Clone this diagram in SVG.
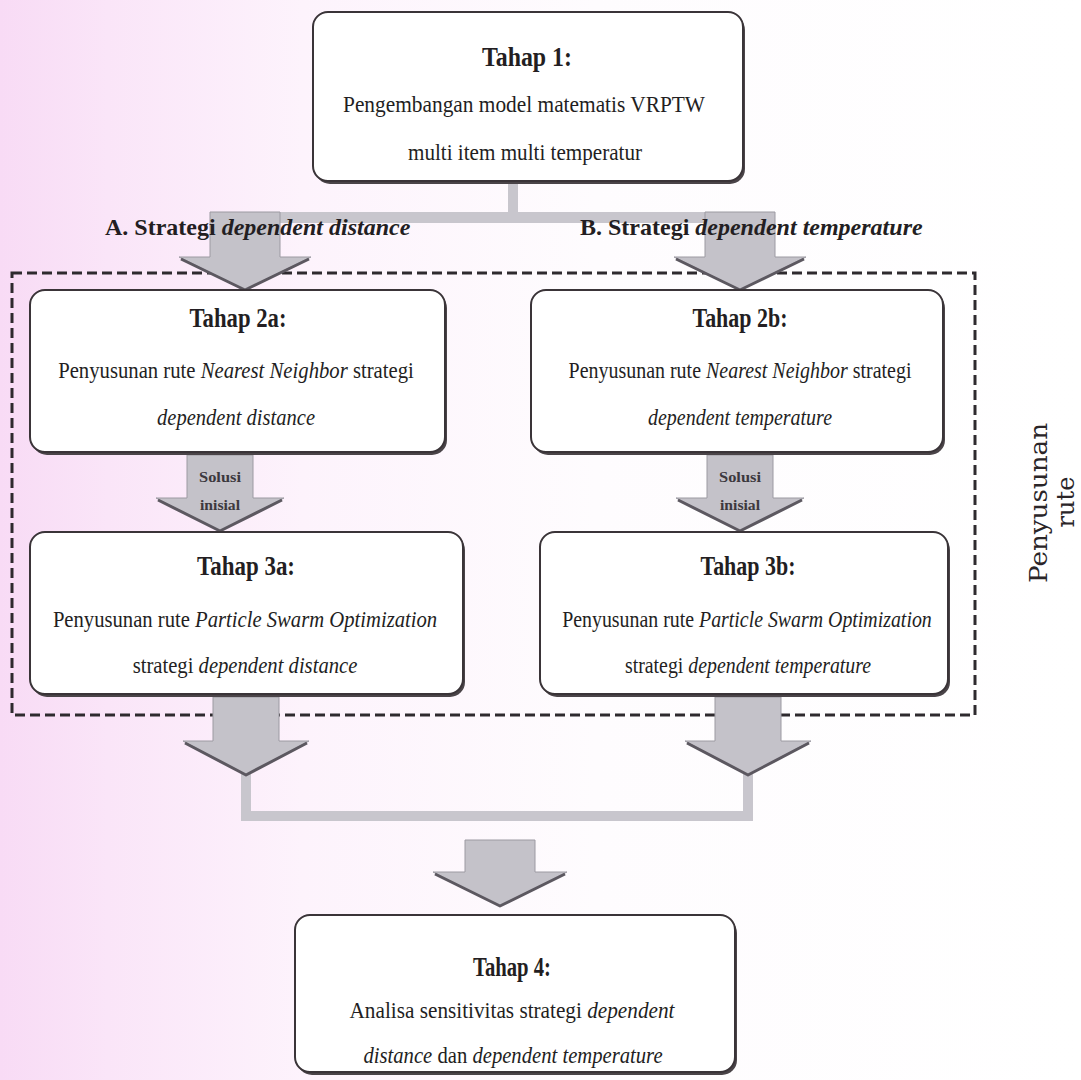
<svg xmlns="http://www.w3.org/2000/svg" width="1081" height="1080" viewBox="0 0 1081 1080">
  <defs>
    <linearGradient id="bg" x1="0" y1="0" x2="1" y2="0">
      <stop offset="0" stop-color="#f8dbf5"/>
      <stop offset="0.1" stop-color="#fae5f8"/>
      <stop offset="0.28" stop-color="#fdf3fc"/>
      <stop offset="0.55" stop-color="#fefcfe"/>
      <stop offset="1" stop-color="#ffffff"/>
    </linearGradient>
  </defs>
  <style>
    .box { fill: #ffffff; stroke: #3a3438; stroke-width: 2; }
    .shadow { fill: #4a4448; }
    .title { font-family: "Liberation Serif", "Times New Roman", serif; font-weight: bold; font-size: 27px; fill: #231e22; text-anchor: middle; }
    .body { font-family: "Liberation Serif", "Times New Roman", serif; font-size: 24px; fill: #231e22; text-anchor: middle; }
    .it { font-style: italic; }
    .strat { font-family: "Liberation Serif", "Times New Roman", serif; font-weight: bold; font-size: 24px; fill: #231e22; }
    .small { font-family: "Liberation Serif", "Times New Roman", serif; font-weight: bold; font-size: 14px; fill: #3c383e; text-anchor: middle; }
    .side { font-family: "DejaVu Serif", "Liberation Serif", serif; font-size: 24px; fill: #2a2528; text-anchor: middle; }
    .bar { fill: #c8c6cd; }
    .arrow { fill: #c4c2c9; stroke: #9c9aa2; stroke-width: 1; }
    .edge { fill: none; stroke: #5c5860; stroke-width: 3; stroke-linejoin: round; }
    .frame { fill: none; stroke: #2e2a2e; stroke-width: 3; stroke-dasharray: 10 5; }
  </style>

  <rect x="0" y="0" width="1081" height="1080" fill="url(#bg)"/>

  <!-- dashed frame around the route construction stages -->
  <g id="route-frame">
    <rect class="frame" x="12" y="273" width="963" height="442"/>
    <text class="side" transform="translate(1047,503) rotate(-90)" textLength="160" lengthAdjust="spacingAndGlyphs">Penyusunan</text>
    <text class="side" transform="translate(1074,502) rotate(-90)">rute</text>
  </g>

  <!-- connectors -->
  <g id="connectors">
    <rect class="bar" x="508" y="181" width="10" height="34"/>
    <rect class="bar" x="240" y="212" width="505" height="11"/>
    <rect class="bar" x="241" y="770" width="10" height="51"/>
    <rect class="bar" x="743" y="770" width="10" height="51"/>
    <rect class="bar" x="241" y="811" width="512" height="10"/>

    <polygon class="arrow" points="210,212 280,212 280,257 311,257 245,290 179,257 210,257"/>
    <polyline class="edge" points="181,259 245,290 309,259"/>
    <polygon class="arrow" points="705,212 775,212 775,257 806,257 740,290 674,257 705,257"/>
    <polyline class="edge" points="676,259 740,290 804,259"/>

    <polygon class="arrow" points="187,455 253,455 253,498 284,498 220,531 156,498 187,498"/>
    <polyline class="edge" points="158,500 220,531 282,500"/>
    <polygon class="arrow" points="707,455 773,455 773,498 804,498 740,531 676,498 707,498"/>
    <polyline class="edge" points="678,500 740,531 802,500"/>

    <polygon class="arrow" points="213,697 279,697 279,741 309,741 246,775 183,741 213,741"/>
    <polyline class="edge" points="185,743 246,775 307,743"/>
    <polygon class="arrow" points="715,697 781,697 781,741 811,741 748,775 685,741 715,741"/>
    <polyline class="edge" points="687,743 748,775 809,743"/>

    <polygon class="arrow" points="465,840 535,840 535,872 567,872 500,906 433,872 465,872"/>
    <polyline class="edge" points="435,874 500,906 565,874"/>

    <text class="small" x="220" y="482" textLength="42" lengthAdjust="spacingAndGlyphs">Solusi</text>
    <text class="small" x="220" y="510" textLength="40" lengthAdjust="spacingAndGlyphs">inisial</text>
    <text class="small" x="740" y="482" textLength="42" lengthAdjust="spacingAndGlyphs">Solusi</text>
    <text class="small" x="740" y="510" textLength="40" lengthAdjust="spacingAndGlyphs">inisial</text>

    <text class="strat" x="105" y="235">A. Strategi <tspan class="it">dependent distance</tspan></text>
    <text class="strat" x="580" y="235">B. Strategi <tspan class="it">dependent temperature</tspan></text>
  </g>

  <g id="tahap1">
    <rect class="shadow" x="315" y="15" width="430" height="169" rx="15"/>
    <rect class="box" x="313" y="12" width="430" height="169" rx="15"/>
    <text class="title" x="527" y="66" textLength="90" lengthAdjust="spacingAndGlyphs">Tahap 1:</text>
    <text class="body" x="524" y="112" textLength="362" lengthAdjust="spacingAndGlyphs">Pengembangan model matematis VRPTW</text>
    <text class="body" x="525" y="160" textLength="234" lengthAdjust="spacingAndGlyphs">multi item multi temperatur</text>
  </g>

  <g id="tahap2a">
    <rect class="shadow" x="32" y="293" width="415" height="162" rx="15"/>
    <rect class="box" x="30" y="290" width="415" height="162" rx="15"/>
    <text class="title" x="238" y="327" textLength="97" lengthAdjust="spacingAndGlyphs">Tahap 2a:</text>
    <text class="body" transform="translate(236,378) scale(0.863,1)">Penyusunan  rute <tspan class="it">Nearest Neighbor</tspan> strategi</text>
    <text class="body it" x="236" y="425" textLength="158" lengthAdjust="spacingAndGlyphs">dependent distance</text>
  </g>

  <g id="tahap2b">
    <rect class="shadow" x="533" y="293" width="412" height="162" rx="15"/>
    <rect class="box" x="531" y="290" width="412" height="162" rx="15"/>
    <text class="title" x="740" y="327" textLength="95" lengthAdjust="spacingAndGlyphs">Tahap 2b:</text>
    <text class="body" transform="translate(740,378) scale(0.832,1)">Penyusunan rute <tspan class="it">Nearest Neighbor</tspan> strategi</text>
    <text class="body it" x="740" y="425" textLength="184" lengthAdjust="spacingAndGlyphs">dependent temperature</text>
  </g>

  <g id="tahap3a">
    <rect class="shadow" x="32" y="535" width="433" height="162" rx="15"/>
    <rect class="box" x="30" y="532" width="433" height="162" rx="15"/>
    <text class="title" x="246" y="575" textLength="98" lengthAdjust="spacingAndGlyphs">Tahap 3a:</text>
    <text class="body" transform="translate(245,627) scale(0.861,1)">Penyusunan  rute <tspan class="it">Particle Swarm Optimization</tspan></text>
    <text class="body" transform="translate(245,673) scale(0.861,1)">strategi <tspan class="it">dependent distance</tspan></text>
  </g>

  <g id="tahap3b">
    <rect class="shadow" x="542" y="535" width="408" height="162" rx="15"/>
    <rect class="box" x="540" y="532" width="408" height="162" rx="15"/>
    <text class="title" x="748" y="575" textLength="95" lengthAdjust="spacingAndGlyphs">Tahap 3b:</text>
    <text class="body" transform="translate(747,627) scale(0.828,1)">Penyusunan  rute <tspan class="it">Particle Swarm Optimization</tspan></text>
    <text class="body" transform="translate(748,673) scale(0.827,1)">strategi <tspan class="it">dependent temperature</tspan></text>
  </g>

  <g id="tahap4">
    <rect class="shadow" x="297" y="918" width="440" height="157" rx="15"/>
    <rect class="box" x="295" y="915" width="440" height="157" rx="15"/>
    <text class="title" x="512" y="976" textLength="78" lengthAdjust="spacingAndGlyphs">Tahap 4:</text>
    <text class="body" transform="translate(512,1018) scale(0.885,1)">Analisa sensitivitas strategi <tspan class="it">dependent</tspan></text>
    <text class="body" transform="translate(513,1063) scale(0.861,1)"><tspan class="it">distance</tspan> dan <tspan class="it">dependent temperature</tspan></text>
  </g>
</svg>
